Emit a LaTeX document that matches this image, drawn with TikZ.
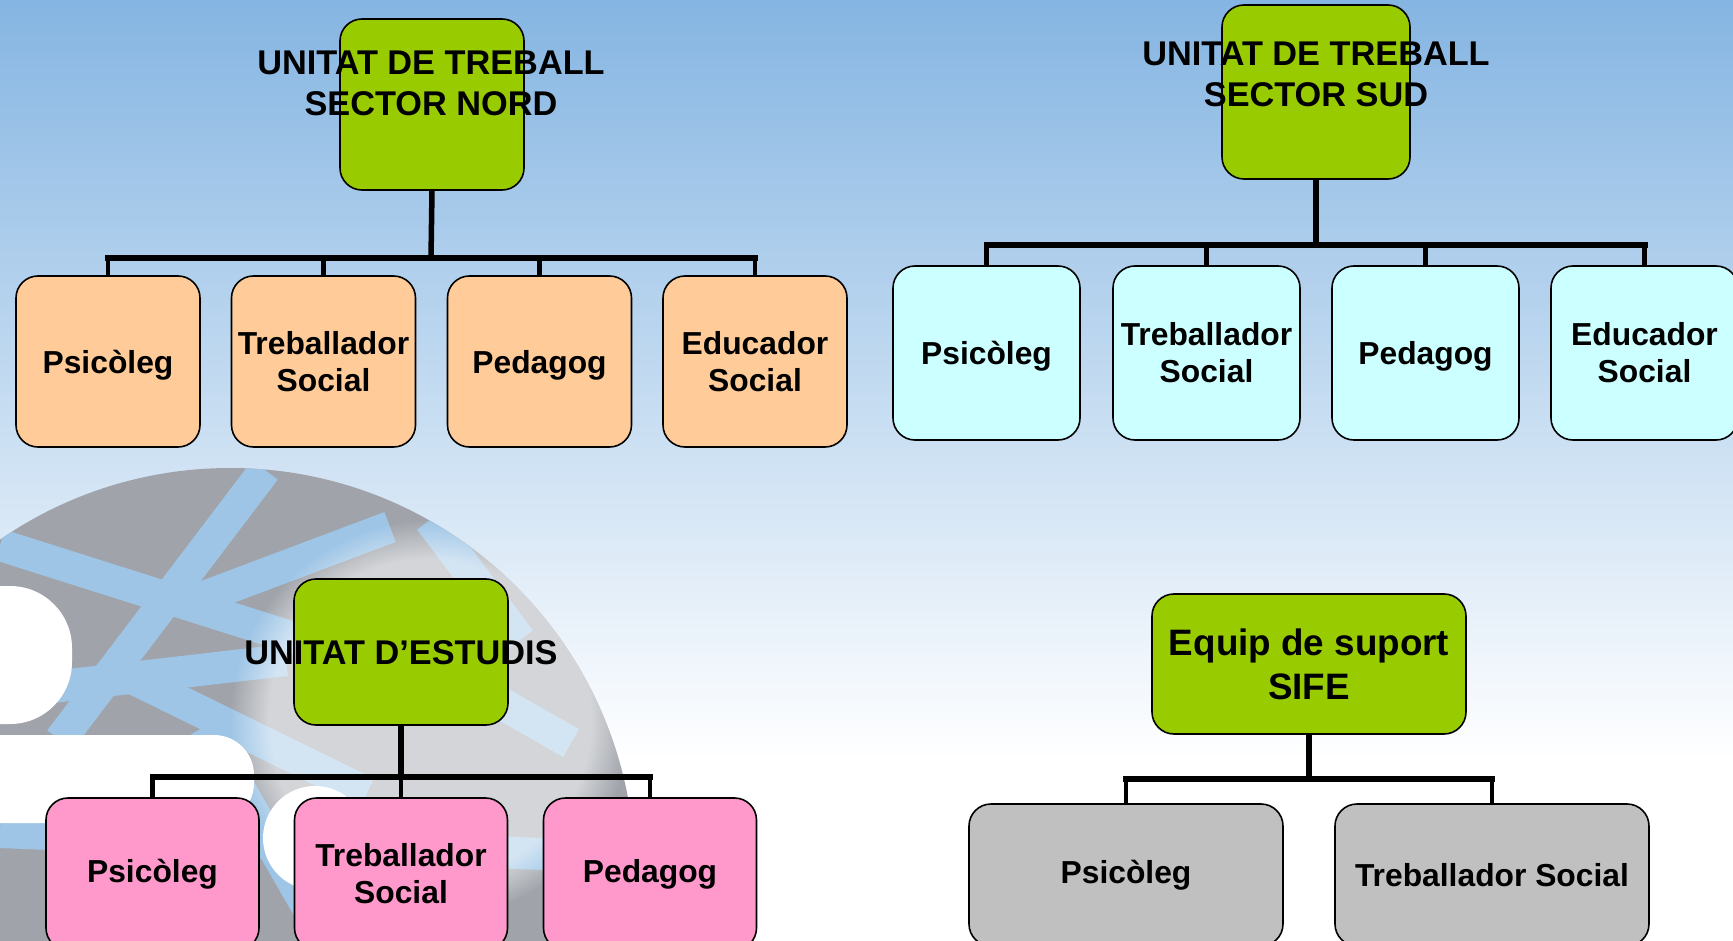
\documentclass[tikz,border=0pt]{standalone}
\usepackage{fontspec}
\setmainfont{Liberation Sans}
\usetikzlibrary{fadings}
\definecolor{bgtop}{RGB}{133,181,226}
\definecolor{headgreen}{HTML}{99CC00}
\definecolor{nordfill}{HTML}{FFCC99}
\definecolor{sudfill}{HTML}{CCFFFF}
\definecolor{estfill}{HTML}{FF99CC}
\definecolor{sifefill}{HTML}{C0C0C0}
\definecolor{discgray}{RGB}{160,164,170}
\definecolor{discblue}{RGB}{158,197,230}
\newcommand\nodepth[1]{\raisebox{0pt}[\height][0pt]{#1}}
\begin{document}
\begin{tikzpicture}[x=1pt,y=-1pt,
    box/.style={draw=black,line width=1.6pt,rounded corners=22pt,inner sep=0pt,
      align=center,font=\bfseries\fontsize{31.8pt}{37pt}\selectfont},
    head/.style={box,fill=headgreen},
    headtext/.style={inner sep=0pt,align=center,font=\bfseries\fontsize{34.3pt}{41pt}\selectfont},
    stem/.style={line width=5.5pt},
    bar/.style={line width=6pt,line cap=rect},
    drop/.style={line width=4.5pt},
    discband/.style={discblue,line width=32pt}]
  \useasboundingbox (0,0) rectangle (1733,941);
  % background
  \shade[top color=bgtop,bottom color=white] (0,0) rectangle (1733,760);
  \fill[white] (0,760) rectangle (1733,941);
  % logo disc behind the lower left chart
  \fill[discgray] (230,873) circle[radius=405];
  \begin{scope}
    \clip (230,873) circle[radius=405];
    \foreach \xa/\ya/\xb/\yb in {265/470/60/740, 0/545/300/640, 196/600/390/527, 0/693/286/660,
        122/673/367/793, 367/627/571/743, 0/832/640/858, 204/727/327/941, 430/520/520/640}
      {\draw[discband] (\xa,\ya) -- (\xb,\yb);}
    \fill[white,opacity=0.55,path fading=circle with fuzzy edge 20 percent] (430,720) circle[radius=200];
  \end{scope}
  \fill[white,rounded corners=62pt] (-80,586) rectangle (72,724);
  \fill[white,rounded corners=40pt] (-60,735) rectangle (254,823);
  \fill[white] (315,838) circle[radius=52];

  % unitat de treball sector nord
  \node[head,minimum width=184pt,minimum height=171pt] (nord) at (432,104.5) {};
  \node[headtext] (nordtxt) at (431,83) {UNITAT DE TREBALL\\SECTOR NORD};
  \coordinate (nordbar) at (431,258);
  \foreach \i/\x/\t in {1/108/{\nodepth{Psicòleg}},2/323.5/{Treballador\\Social},
      3/539.5/{\nodepth{Pedagog}},4/755/{Educador\\Social}}
    {\node[box,fill=nordfill,minimum width=184pt,minimum height=171pt] (nord\i) at (\x,361.5) {\t};
     \draw[drop] (nord\i.north) -- (nord\i.north |- nordbar);}
  \draw[stem] (nord.south) -- (nordbar);
  \draw[bar] (nord1.north |- nordbar) -- (nord4.north |- nordbar);

  % unitat de treball sector sud
  \node[head,minimum width=188pt,minimum height=174pt] (sud) at (1316,92) {};
  \node[headtext] (sudtxt) at (1316,74) {UNITAT DE TREBALL\\SECTOR SUD};
  \coordinate (sudbar) at (1316,245);
  \foreach \i/\x/\t in {1/986.5/{\nodepth{Psicòleg}},2/1206.5/{Treballador\\Social},
      3/1425.5/{\nodepth{Pedagog}},4/1644.5/{Educador\\Social}}
    {\node[box,fill=sudfill,minimum width=187pt,minimum height=174pt] (sud\i) at (\x,353) {\t};
     \draw[drop] (sud\i.north) -- (sud\i.north |- sudbar);}
  \draw[stem] (sud.south) -- (sudbar);
  \draw[bar] (sud1.north |- sudbar) -- (sud4.north |- sudbar);

  % unitat d'estudis
  \node[head,minimum width=214pt,minimum height=146pt] (est) at (401,652) {};
  \node[headtext] (esttxt) at (401,653) {UNITAT D’ESTUDIS};
  \coordinate (estbar) at (401,777);
  \foreach \i/\x/\t in {1/152.5/{Psicòleg},2/401/{Treballador\\Social},3/650/{Pedagog}}
    {\node[box,fill=estfill,minimum width=213pt,minimum height=152pt] (est\i) at (\x,874) {\t};
     \draw[drop] (est\i.north) -- (est\i.north |- estbar);}
  \draw[stem] (est.south) -- (estbar);
  \draw[bar] (est1.north |- estbar) -- (est3.north |- estbar);

  % equip de suport SIFE
  \node[head,minimum width=314pt,minimum height=140pt] (sife) at (1309,664) {};
  \node[headtext,font=\bfseries\fontsize{36.8pt}{44pt}\selectfont] (sifetxt) at (1309,664.5)
    {Equip de suport\\SIFE};
  \coordinate (sifebar) at (1309,779);
  \foreach \i/\x/\t in {1/1126/{Psicòleg},2/1492/{Treballador Social}}
    {\node[box,fill=sifefill,minimum width=314pt,minimum height=142pt] (sife\i) at (\x,875) {\t};
     \draw[drop] (sife\i.north) -- (sife\i.north |- sifebar);}
  \draw[stem] (sife.south) -- (sifebar);
  \draw[bar] (sife1.north |- sifebar) -- (sife2.north |- sifebar);
\end{tikzpicture}
\end{document}
